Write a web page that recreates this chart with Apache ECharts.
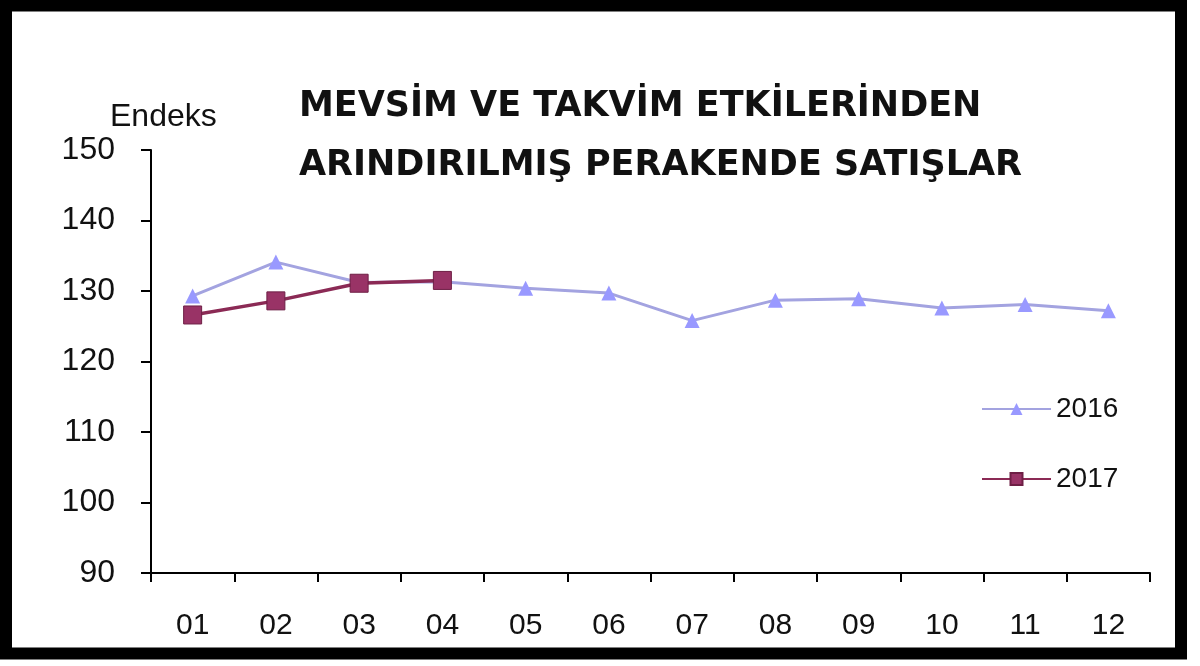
<!DOCTYPE html>
<html>
<head>
<meta charset="utf-8">
<script src="https://cdn.jsdelivr.net/npm/echarts@6/dist/echarts.min.js"></script>
<style>
  html, body { margin: 0; padding: 0; background: #fff; }
  #chart { width: 1200px; height: 666px; }
</style>
</head>
<body>
<div id="chart"></div>
<script>
// aylar
const months = ['01', '02', '03', '04', '05', '06', '07', '08', '09', '10', '11', '12']
// endeks değerleri
const values2016 = [129.3, 134.1, 131.2, 131.3, 130.4, 129.7, 125.8, 128.7, 128.9, 127.6, 128.1, 127.2]
const values2017 = [126.6, 128.6, 131.1, 131.5]
const titleLines = ['MEVSİM VE TAKVİM ETKİLERİNDEN', 'ARINDIRILMIŞ PERAKENDE SATIŞLAR']
const yName = 'Endeks'

const chart = echarts.init(document.getElementById('chart'))

const option = {
  animation: false,
  backgroundColor: '#fff',
  title: [
    {
      text: titleLines.join('\n'),
      left: 294,
      top: 72,
      textStyle: {
        fontFamily: 'DejaVu Sans',
        fontWeight: 'bold',
        fontSize: 35,
        lineHeight: 59,
        color: '#111'
      }
    },
    {
      text: yName,
      left: 105,
      top: 96,
      textStyle: {
        fontFamily: 'Liberation Sans',
        fontWeight: 'normal',
        fontSize: 32,
        color: '#111'
      }
    }
  ],
  legend: {
    orient: 'vertical',
    left: 976,
    top: 390,
    itemWidth: 69,
    itemHeight: 15,
    itemGap: 42,
    textStyle: {
      fontFamily: 'Liberation Sans',
      fontSize: 28,
      color: '#111'
    },
    data: ['2016', '2017']
  },
  grid: {
    left: 151,
    right: 50,
    top: 150,
    bottom: 93
  },
  xAxis: {
    type: 'category',
    data: months,
    boundaryGap: true,
    axisLine: { lineStyle: { color: '#000', width: 2 } },
    axisTick: { show: true, length: 9, lineStyle: { color: '#000', width: 2 } },
    axisLabel: {
      fontFamily: 'Liberation Sans',
      fontSize: 30,
      color: '#111',
      margin: 38
    }
  },
  yAxis: {
    type: 'value',
    min: 90,
    max: 150,
    interval: 10,
    axisLine: { show: true, lineStyle: { color: '#000', width: 2 } },
    axisTick: { show: true, length: 10, lineStyle: { color: '#000', width: 2 } },
    splitLine: { show: false },
    axisLabel: {
      fontFamily: 'Liberation Sans',
      fontSize: 32,
      color: '#111',
      margin: 36
    }
  },
  series: [
    {
      name: '2016',
      type: 'line',
      data: values2016,
      symbol: 'triangle',
      symbolSize: 15,
      lineStyle: { color: '#a3a3e0', width: 3 },
      itemStyle: { color: '#9999ff' }
    },
    {
      name: '2017',
      type: 'line',
      data: values2017,
      symbol: 'rect',
      symbolSize: 18,
      z: 3,
      lineStyle: { color: '#8b2a55', width: 3.5 },
      itemStyle: { color: '#993366', borderColor: '#6e1f45', borderWidth: 1 }
    }
  ],
  graphic: [
    {
      type: 'rect',
      shape: { x: 6, y: 5.5, width: 1175, height: 648 },
      style: { fill: 'none', stroke: '#000', lineWidth: 12 },
      silent: true
    }
  ]
}

chart.setOption(option)
</script>
</body>
</html>
